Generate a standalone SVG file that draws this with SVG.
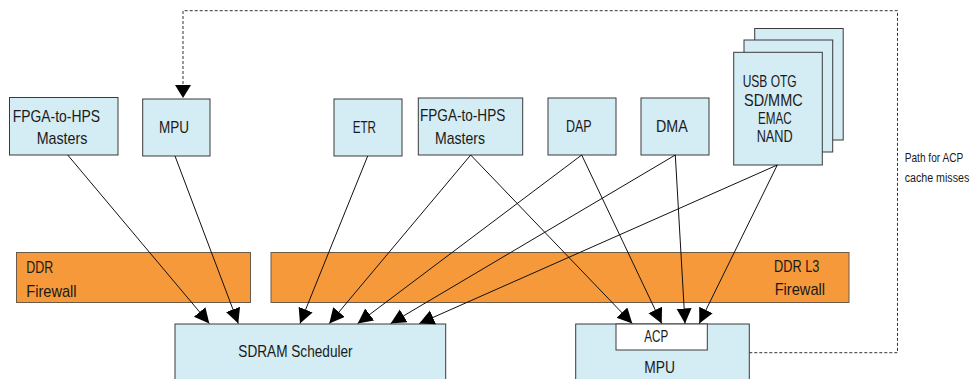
<svg xmlns="http://www.w3.org/2000/svg" width="973" height="379" viewBox="0 0 973 379">
<style>
.box{fill:#d4ecf3;stroke:#3a3a3a;stroke-width:1}
.fw{fill:#f6993a;stroke:#6a5a4a;stroke-width:1}
.acp{fill:#ffffff;stroke:#3a3a3a;stroke-width:1}
text{font-family:"Liberation Sans",Arial,sans-serif;font-size:17px;fill:#1a1a1a}
.sm{font-size:13.5px}
.ln{stroke:#111;stroke-width:1;fill:none;marker-end:url(#ah)}
.dash{stroke:#333;stroke-width:1;fill:none;stroke-dasharray:3 2}
</style>
<defs>
<marker id="ah" markerUnits="userSpaceOnUse" markerWidth="16" markerHeight="16" refX="15" refY="7.5" orient="auto">
<path d="M0,0 L15,7.5 L0,15 z" fill="#000"/>
</marker>
</defs>
<g id="fw-ddr"><rect class="fw" x="16.5" y="252.5" width="234" height="50"/><text x="26.3" y="272.5" textLength="27" lengthAdjust="spacingAndGlyphs">DDR</text><text x="26.3" y="296.5" textLength="50.3" lengthAdjust="spacingAndGlyphs">Firewall</text></g>
<g id="fw-l3"><rect class="fw" x="271" y="252.5" width="578" height="50"/><text x="774" y="271.5" textLength="45.3" lengthAdjust="spacingAndGlyphs">DDR L3</text><text x="774.7" y="295" textLength="50.3" lengthAdjust="spacingAndGlyphs">Firewall</text></g>
<g id="fpga1"><rect class="box" x="9.5" y="97.5" width="108.5" height="57.5"/><text x="12.7" y="121.5" textLength="87.3" lengthAdjust="spacingAndGlyphs">FPGA-to-HPS</text><text x="36.7" y="144.3" textLength="50.7" lengthAdjust="spacingAndGlyphs">Masters</text></g>
<g id="mpu-top"><rect class="box" x="142.7" y="99" width="67.3" height="57"/><text x="159" y="133" textLength="30" lengthAdjust="spacingAndGlyphs">MPU</text></g>
<g id="etr"><rect class="box" x="334" y="99" width="68" height="57"/><text x="352.7" y="133" textLength="23.3" lengthAdjust="spacingAndGlyphs">ETR</text></g>
<g id="fpga2"><rect class="box" x="418.3" y="98" width="104.4" height="57"/><text x="420" y="121" textLength="85.3" lengthAdjust="spacingAndGlyphs">FPGA-to-HPS</text><text x="435" y="144" textLength="50" lengthAdjust="spacingAndGlyphs">Masters</text></g>
<g id="dap"><rect class="box" x="548" y="98" width="68" height="57"/><text x="566" y="132" textLength="25.7" lengthAdjust="spacingAndGlyphs">DAP</text></g>
<g id="dma"><rect class="box" x="641" y="98" width="68" height="57"/><text x="656" y="132" textLength="31.7" lengthAdjust="spacingAndGlyphs">DMA</text></g>
<g id="periph"><rect class="box" x="754.7" y="28.5" width="88.5" height="111.5"/><rect class="box" x="744" y="40" width="88.7" height="112"/><rect class="box" x="733.7" y="52.3" width="88.6" height="112.7"/><text x="742.7" y="87.3" textLength="54" lengthAdjust="spacingAndGlyphs">USB OTG</text><text x="744" y="105.5" textLength="58.7" lengthAdjust="spacingAndGlyphs">SD/MMC</text><text x="758" y="123.5" textLength="33.7" lengthAdjust="spacingAndGlyphs">EMAC</text><text x="756.7" y="141.7" textLength="36" lengthAdjust="spacingAndGlyphs">NAND</text></g>
<g id="sdram"><rect class="box" x="175" y="324" width="270.7" height="60"/><text x="238.3" y="357.3" textLength="114.3" lengthAdjust="spacingAndGlyphs">SDRAM Scheduler</text></g>
<g id="mpu-bot"><rect class="box" x="575.7" y="324" width="173.6" height="60"/><rect class="acp" x="616" y="324" width="91.3" height="26"/><text x="644.3" y="342.3" textLength="24" lengthAdjust="spacingAndGlyphs">ACP</text><text x="644.3" y="373.3" textLength="30.7" lengthAdjust="spacingAndGlyphs">MPU</text></g>
<g id="note"><text class="sm" transform="translate(904.7,162) scale(0.75,1)">Path for ACP</text><text class="sm" transform="translate(904.7,182) scale(0.79,1)">cache misses</text></g>
<g id="connectors">
<path class="ln" d="M67.7,155 L209.3,323.5"/>
<path class="ln" d="M175,156 L238.3,323.5"/>
<path class="ln" d="M367.7,156 L300,323.5"/>
<path class="ln" d="M470.7,155 L329.3,323.5"/>
<path class="ln" d="M581.7,155 L357.7,323.5"/>
<path class="ln" d="M675.3,155 L390.7,323.5"/>
<path class="ln" d="M777.3,165 L419.3,323.5"/>
<path class="ln" d="M470.7,155 L632.3,323.5"/>
<path class="ln" d="M581.7,155 L661.7,323.5"/>
<path class="ln" d="M675.3,155 L685,323.5"/>
<path class="ln" d="M777.3,165 L699.3,323.5"/>
<path class="dash" d="M749.3,352.7 H897.5 V10.7 H183 V85"/>
<path d="M175,85 L191,85 L183,98 z" fill="#000"/>
</g>
</svg>
